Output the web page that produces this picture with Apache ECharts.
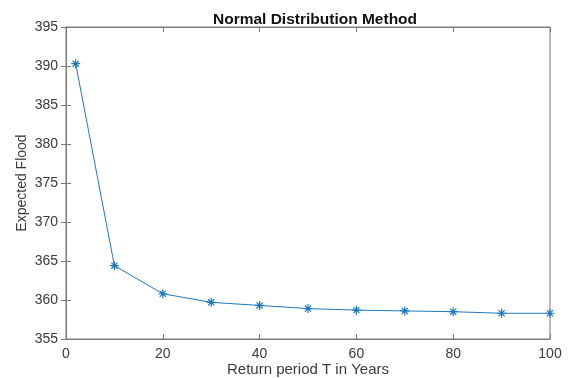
<!DOCTYPE html>
<html>
<head>
<meta charset="utf-8">
<script src="https://cdn.jsdelivr.net/npm/echarts@6/dist/echarts.min.js"></script>
<style>
  html, body { margin: 0; padding: 0; background: #fff; }
  #chart { width: 571px; height: 378px; }
</style>
</head>
<body>
<div id="chart"></div>
<script>
// Return period T (years) vs expected flood, normal distribution method
const returnPeriods = [2, 10, 20, 30, 40, 50, 60, 70, 80, 90, 100];
const expectedFlood = [390.3, 364.4, 360.8, 359.7, 359.3, 358.9, 358.7, 358.6, 358.5, 358.3, 358.3];

const AXIS_GRAY = "#7a7a7a";
const TEXT_DARK = "#3a3a3a";
const LINE_BLUE = "#1f78bf";

// asterisk marker like MATLAB's '*'
const ASTERISK = "path://M5,0L5,10M0,5L10,5M1.6,1.6L8.4,8.4M1.6,8.4L8.4,1.6";

const chart = echarts.init(document.getElementById("chart"));

const tickStyle = { show: true, inside: true, length: 5, lineStyle: { color: AXIS_GRAY } };

chart.setOption({
  animation: false,
  backgroundColor: "#fff",
  title: {
    text: "Normal Distribution Method",
    left: 310,
    textAlign: "center",
    top: 7,
    textStyle: { fontFamily: "Liberation Sans", fontSize: 15.5, fontWeight: "bold", color: "#111" },
  },
  grid: {
    left: 66, right: 21, top: 27, bottom: 39,
    outerBoundsMode: "none",
    show: true, borderColor: AXIS_GRAY, borderWidth: 1,
  },
  xAxis: [
    {
      type: "value", min: 0, max: 100, interval: 20,
      name: "Return period T in Years",
      nameLocation: "middle", nameGap: 23,
      nameMoveOverlap: false,
      nameTextStyle: { fontFamily: "Liberation Sans", fontSize: 15, color: TEXT_DARK },
      axisLine: { show: true, lineStyle: { color: AXIS_GRAY } },
      axisTick: tickStyle,
      axisLabel: { fontFamily: "Liberation Sans", fontSize: 14, color: TEXT_DARK, margin: 8 },
      splitLine: { show: false },
    },
    {
      type: "value", position: "top", min: 0, max: 100, interval: 20,
      axisLine: { show: true, lineStyle: { color: AXIS_GRAY } },
      axisTick: tickStyle,
      axisLabel: { show: false },
      splitLine: { show: false },
    },
  ],
  yAxis: [
    {
      type: "value", min: 355, max: 395, interval: 5,
      name: "Expected Flood",
      nameLocation: "middle", nameGap: 37, nameRotate: 90,
      nameMoveOverlap: false,
      nameTextStyle: { fontFamily: "Liberation Sans", fontSize: 14, color: TEXT_DARK },
      axisLine: { show: true, lineStyle: { color: AXIS_GRAY } },
      axisTick: tickStyle,
      axisLabel: { fontFamily: "Liberation Sans", fontSize: 14, color: TEXT_DARK, margin: 8 },
      splitLine: { show: false },
    },
    {
      type: "value", position: "right", min: 355, max: 395, interval: 5,
      axisLine: { show: true, lineStyle: { color: AXIS_GRAY } },
      axisTick: tickStyle,
      axisLabel: { show: false },
      splitLine: { show: false },
    },
  ],
  series: [
    {
      type: "line",
      data: returnPeriods.map((t, i) => [t, expectedFlood[i]]),
      symbol: ASTERISK,
      symbolSize: 9,
      showAllSymbol: true,
      clip: false,
      lineStyle: { color: LINE_BLUE, width: 1 },
      itemStyle: { color: "rgba(0,0,0,0)", borderColor: LINE_BLUE, borderWidth: 1.2 },
    },
  ],
});
</script>
</body>
</html>
